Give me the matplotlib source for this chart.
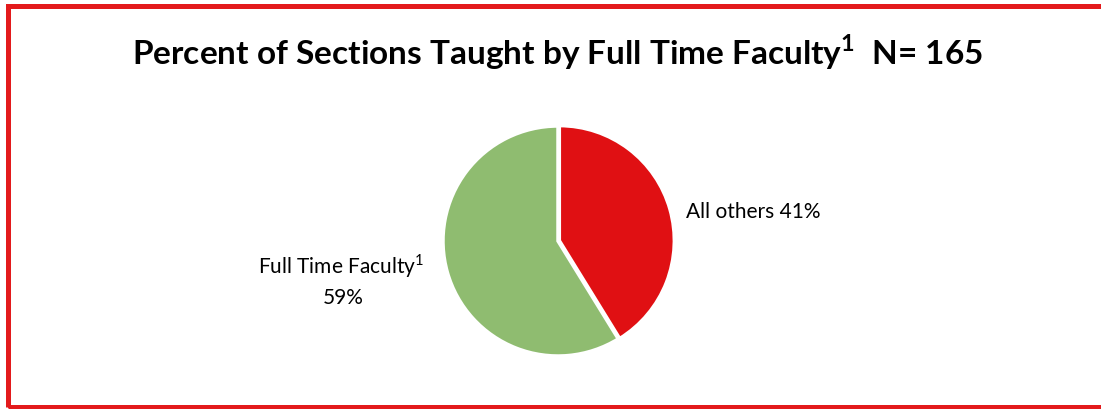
import matplotlib
matplotlib.use("Agg")
import matplotlib.pyplot as plt
from matplotlib.patches import Rectangle

# data (section counts, N = 165)
categories = ["All others", "Full Time Faculty"]
counts = [68, 97]
colors = ["#E01013", "#8FBC70"]
n_sections = sum(counts)
shares = [round(100 * c / n_sections) for c in counts]

plt.rcParams['font.family'] = ['Lato', 'DejaVu Sans']
plt.rcParams['mathtext.fontset'] = 'custom'
plt.rcParams['mathtext.rm'] = 'Lato'
plt.rcParams['mathtext.bf'] = 'Lato:bold'

fig = plt.figure(figsize=(11.01, 4.09), dpi=100)
W, H = 1101, 409

# red frame round the chart area
fig.patches.append(Rectangle((7.5 / W, 1 - 406.5 / H), 1.1, (406.5 - 5.5) / H,
                             transform=fig.transFigure, fill=False,
                             edgecolor="#E31A1C", linewidth=3.6))

fig.text(558 / W, 1 - 52 / H,
         r"Percent of Sections Taught by Full Time Faculty$^{\mathbf{1}}$  N= %d" % n_sections,
         ha="center", va="center", fontsize=24, fontweight="bold", color="black")

# pie axes centred at (558, 241) px with radius 115 px
cx, cy, r = 558, 241, 115
ax = fig.add_axes([(cx - 4 * r) / W, 1 - (cy + r) / H, 8 * r / W, 2 * r / H])
ax.pie(counts, colors=colors, startangle=90, counterclock=False, radius=1,
       explode=[0.012, 0], wedgeprops=dict(edgecolor="white", linewidth=2.5))
ax.set_xlim(-4, 4)
ax.set_ylim(-1, 1)
ax.set_aspect("equal")
ax.axis("off")

ax.text(128 / r, (cy - 212) / r, "%s %d%%" % (categories[0], shares[0]),
        ha="left", va="center", fontsize=15)
ax.text(-217 / r, (cy - 266) / r, r"%s$^{1}$" % categories[1],
        ha="center", va="center", fontsize=15)
ax.text(-215 / r, (cy - 298) / r, "%d%%" % shares[1],
        ha="center", va="center", fontsize=15)

fig.savefig("out.png", dpi=100)
